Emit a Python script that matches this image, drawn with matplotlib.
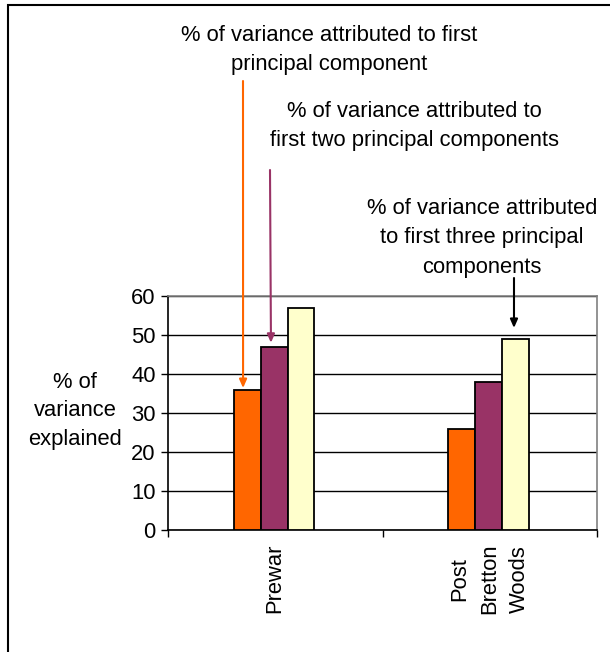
import numpy as np
import matplotlib
matplotlib.use("Agg")
import matplotlib.pyplot as plt
from matplotlib.patches import Rectangle

# data
periods = ["Prewar", "Post\nBretton\nWoods"]
first_pc = [36, 26]
first_two_pc = [47, 38]
first_three_pc = [57, 49]
series_colors = ["#FF6600", "#993366", "#FFFFCC"]
y_ticks = [0, 10, 20, 30, 40, 50, 60]

plt.rcParams["font.family"] = ["Liberation Sans", "DejaVu Sans"]
FS = 15.8
LS = 1.5

fig = plt.figure(figsize=(6.1, 6.52), dpi=100)
W, H = 610, 652


def fx(px):
    return px / W


def fy(py):
    return 1 - py / H


ax = fig.add_axes([fx(168), fy(530), fx(597) - fx(168), fy(296) - fy(530)])

centers = np.array([0.5, 1.5])
bw = 0.125
for i, vals in enumerate([first_pc, first_two_pc, first_three_pc]):
    ax.bar(centers + (i - 1) * bw - 0.005, vals, width=bw, color=series_colors[i],
           edgecolor="black", linewidth=1.3, zorder=3)

ax.set_xlim(0, 2)
ax.set_ylim(0, 60)
ax.set_yticks(y_ticks)
ax.set_yticklabels([str(t) for t in y_ticks], fontsize=FS)
ax.yaxis.grid(True, color="black", linewidth=1)
ax.set_axisbelow(True)

ax.set_xticks([0, 1, 2])
ax.set_xticklabels([])
ax.tick_params(axis="x", which="major", direction="out", length=5, width=1)
ax.tick_params(axis="y", direction="out", length=5, width=1, pad=4)
ax.set_xticks(centers, minor=True)
ax.set_xticklabels(periods, minor=True, rotation=90, fontsize=FS, ma="center",
                   linespacing=1.55)
ax.tick_params(axis="x", which="minor", length=0, pad=10)

for s in ["top", "right"]:
    ax.spines[s].set_color("#808080")
    ax.spines[s].set_linewidth(1.2)
for s in ["bottom", "left"]:
    ax.spines[s].set_color("black")
    ax.spines[s].set_linewidth(1.2)

fig.text(fx(75), fy(411), "% of\nvariance\nexplained", ha="center", va="center",
         ma="center", fontsize=FS, linespacing=LS)

# callout texts
fig.text(fx(329), fy(50), "% of variance attributed to first\nprincipal component",
         ha="center", va="center", fontsize=FS, linespacing=LS)
fig.text(fx(414), fy(126), "% of variance attributed to\nfirst two principal components",
         ha="center", va="center", fontsize=FS, linespacing=LS)
fig.text(fx(482), fy(238), "% of variance attributed\nto first three principal\ncomponents",
         ha="center", va="center", fontsize=FS, linespacing=LS)

# arrows pointing at bars
arrows = [
    ((0.35, 36.4), (fx(243), fy(81)), "#FF6600"),
    ((0.48, 48.0), (fx(270), fy(170)), "#993366"),
    ((1.613, 51.8), (fx(514), fy(278)), "black"),
]
for xy, xytext, c in arrows:
    ax.annotate("", xy=xy, xycoords="data", xytext=xytext, textcoords="figure fraction",
                arrowprops=dict(arrowstyle="-|>,head_length=0.5,head_width=0.22", color=c,
                                lw=1.5, shrinkA=0, shrinkB=0),
                annotation_clip=False)

# outer chart frame (left and top edges visible)
fig.patches.append(Rectangle((fx(8), -0.05), 1.2, fy(5) + 0.05, transform=fig.transFigure,
                             fill=False, edgecolor="black", linewidth=1.5))

fig.savefig("out.png", dpi=100)
